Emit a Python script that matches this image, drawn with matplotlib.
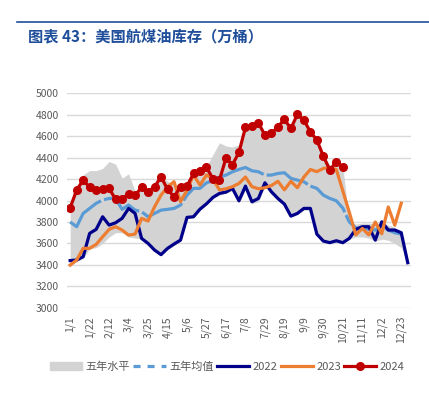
import numpy as np
import matplotlib
matplotlib.use("Agg")
import matplotlib.pyplot as plt
from matplotlib.patches import Patch
from matplotlib.lines import Line2D

plt.rcParams['font.family'] = ['Noto Sans CJK SC', 'DejaVu Sans']

# 周序号对应的刻度标签（每3周一个）
tick_labels = ["1/1", "1/22", "2/12", "3/4", "3/25", "4/15", "5/6", "5/27", "6/17",
               "7/8", "7/29", "8/19", "9/9", "9/30", "10/21", "11/11", "12/2", "12/23"]

# 五年区间 上沿 / 下沿
range_hi = [3940, 4120, 4240, 4280, 4280, 4300, 4365, 4340, 4210, 4250, 4090, 4120, 4090, 4130,
            4220, 4180, 4150, 4140, 4180, 4260, 4290, 4320, 4430, 4540, 4510, 4500, 4520, 4670,
            4680, 4710, 4620, 4630, 4680, 4740, 4670, 4790, 4740, 4630, 4560, 4420, 4330, 4340,
            4320, 3800, 3780, 3790, 3790, 3780, 3800, 3770, 3750, 3700, 3440]
range_lo = [3390, 3430, 3460, 3550, 3560, 3600, 3660, 3700, 3700, 3660, 3650, 3640, 3590, 3530,
            3490, 3540, 3580, 3620, 3830, 3840, 3910, 3960, 4020, 4050, 4070, 4090, 3980, 4100,
            3970, 3990, 4130, 4060, 4000, 3950, 3850, 3870, 3910, 3910, 3680, 3610, 3600, 3610,
            3600, 3640, 3660, 3660, 3650, 3620, 3640, 3630, 3600, 3560, 3420]

# 五年均值
avg5 = [3800, 3756, 3880, 3927, 3974, 4005, 4020, 4020, 3918, 3958, 3911, 3896, 3849, 3880,
        3911, 3918, 3927, 3958, 4051, 4114, 4114, 4166, 4185, 4222, 4238, 4269, 4291, 4309,
        4278, 4269, 4238, 4238, 4253, 4260, 4207, 4191, 4176, 4135, 4114, 4051, 4020, 3998,
        3930, 3800, 3745, 3740, 3731, 3725, 3762, 3725, 3700, 3687]

y2022 = [3440, 3445, 3476, 3694, 3731, 3849, 3771, 3793, 3834, 3927, 3880, 3647, 3600, 3538,
         3495, 3554, 3594, 3631, 3843, 3849, 3920, 3970, 4030, 4067, 4079, 4114, 3998, 4135,
         3989, 4020, 4166, 4082, 4020, 3967, 3855, 3880, 3927, 3927, 3687, 3622, 3607, 3625,
         3607, 3647, 3731, 3756, 3756, 3631, 3802, 3725, 3725, 3700, 3420]

y2023 = [3398, 3445, 3554, 3554, 3591, 3662, 3731, 3756, 3725, 3678, 3687, 3834, 3809, 3942,
         4051, 4129, 4176, 3989, 4098, 4238, 4145, 4240, 4200, 4100, 4110, 4130, 4160, 4220,
         4130, 4110, 4120, 4140, 4180, 4100, 4180, 4120, 4220, 4290, 4270, 4300, 4310, 4290,
         4090, 3890, 3680, 3740, 3680, 3800, 3690, 3940, 3770, 3975]

y2024 = [3933, 4098, 4191, 4123, 4098, 4110, 4114, 4011, 4017, 4061, 4048, 4123, 4082, 4129,
         4222, 4104, 4036, 4129, 4135, 4253, 4278, 4309, 4204, 4194, 4395, 4335, 4450, 4683,
         4695, 4724, 4611, 4627, 4689, 4757, 4673, 4804, 4751, 4642, 4565, 4415, 4285, 4362,
         4316]

c_gray = "#D3D3D3"
c_avg = "#5B9BD5"
c_22 = "#00008B"
c_23 = "#ED7D31"
c_24 = "#C00000"

fig = plt.figure(figsize=(4.29, 3.96), dpi=100)
ax = fig.add_axes([0.156, 0.223, 0.802, 0.541])

x_all = np.arange(len(range_hi))
ax.fill_between(x_all, range_lo, range_hi, color=c_gray, lw=0, zorder=1)
ax.plot(np.arange(len(avg5)), avg5, color=c_avg, lw=2.3, dashes=(14, 1), zorder=2)
ax.plot(np.arange(len(y2022)), y2022, color=c_22, lw=2.3, zorder=3)
ax.plot(np.arange(len(y2023)), y2023, color=c_23, lw=2.3, zorder=4)
ax.plot(np.arange(len(y2024)), y2024, color=c_24, lw=2.3, marker='o', ms=5.5, zorder=5)

ax.set_xlim(-0.5, len(range_hi) - 0.5)
ax.set_ylim(3000, 5000)
ax.set_yticks(np.arange(3000, 5001, 200))
ax.set_xticks(np.arange(0, len(tick_labels) * 3, 3))
ax.set_xticklabels(tick_labels, rotation=90)
ax.tick_params(length=0, labelsize=7.5, labelcolor="#595959", pad=6)
ax.yaxis.grid(True, color="#D9D9D9", lw=1)
ax.set_axisbelow(True)
for s in ax.spines.values():
    s.set_visible(False)

# 标题
fig.add_artist(Line2D([0.04, 1.0], [1 - 22 / 396, 1 - 22 / 396], color="#1F4E9A", lw=1.2))
fig.text(0.065, 1 - 36 / 396, "图表 43：美国航煤油库存（万桶）", color="#1F4E9A",
         fontsize=11, fontweight="bold", va="center", ha="left")

handles = [Patch(color=c_gray),
           Line2D([], [], color=c_avg, lw=2.3, dashes=(2.2, 2.2)),
           Line2D([], [], color=c_22, lw=2.3),
           Line2D([], [], color=c_23, lw=2.3),
           Line2D([], [], color=c_24, lw=2.3, marker='o', ms=5.5)]
labels = ["五年水平", "五年均值", "2022", "2023", "2024"]
leg = fig.legend(handles, labels, loc="center", bbox_to_anchor=(0.53, 1 - 367 / 396), ncol=5,
                 frameon=False, fontsize=8, handlelength=2.9, handletextpad=0.3,
                 columnspacing=0.3, labelcolor="#595959")

fig.savefig("out.png", dpi=100)
